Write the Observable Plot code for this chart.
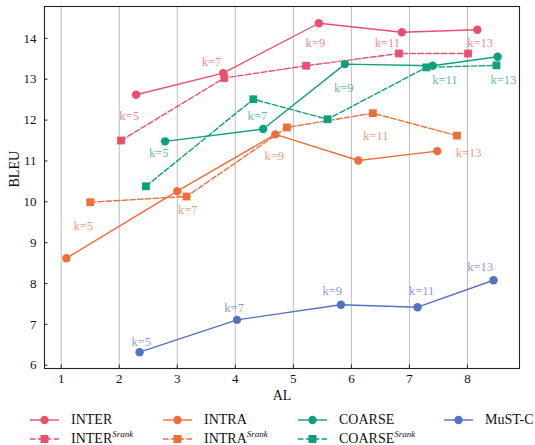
<!DOCTYPE html>
<html>
<head>
<meta charset="utf-8">
<script src="https://cdn.jsdelivr.net/npm/d3@7"></script>
<script src="https://cdn.jsdelivr.net/npm/@observablehq/plot@0.6"></script>
<style>
  body { margin: 0; background: #fff; }
  #wrap { position: relative; width: 535px; height: 445px; font-family: "Times New Roman", "Liberation Serif", "DejaVu Serif", serif; }
  #legend { position: absolute; left: 30px; top: 410px; display: grid; grid-template-columns: 133px 135px 146px auto; grid-auto-rows: 19px; font-size: 14px; color: #111; }
  .item { display: flex; align-items: center; white-space: nowrap; }
  .item svg { margin-right: 12px; flex: none; }
  sup { font-style: italic; font-size: 9px; vertical-align: 6px; line-height: 0; }
</style>
</head>
<body>
<div id="wrap">
  <div id="chart"></div>
  <div id="legend"></div>
</div>
<script>
const xTicks = [1, 2, 3, 4, 5, 6, 7, 8];
const yTicks = [6, 7, 8, 9, 10, 11, 12, 13, 14];
const kValues = [5, 7, 9, 11, 13];

const interAL = [2.29, 3.79, 5.44, 6.87, 8.17];
const interBLEU = [12.62, 13.15, 14.37, 14.15, 14.21];
const interSrankAL = [2.03, 3.81, 5.22, 6.82, 8.01];
const interSrankBLEU = [11.50, 13.03, 13.33, 13.63, 13.63];
const intraAL = [1.09, 3.00, 4.69, 6.12, 7.48];
const intraBLEU = [8.62, 10.26, 11.65, 11.01, 11.24];
const intraSrankAL = [1.50, 3.16, 4.89, 6.37, 7.82];
const intraSrankBLEU = [9.99, 10.13, 11.82, 12.17, 11.62];
const coarseAL = [2.79, 4.48, 5.89, 7.40, 8.52];
const coarseBLEU = [11.48, 11.78, 13.37, 13.33, 13.55];
const coarseSrankAL = [2.46, 4.31, 5.59, 7.29, 8.50];
const coarseSrankBLEU = [10.38, 12.51, 12.02, 13.29, 13.34];
const mustcAL = [2.35, 4.03, 5.82, 7.14, 8.45];
const mustcBLEU = [6.32, 7.11, 7.48, 7.42, 8.08];

// annotation anchor points (data units)
const interLabelAL = [2.17, 3.59, 5.38, 6.62, 8.22];
const interLabelBLEU = [12.09, 13.41, 13.89, 13.89, 13.89];
const intraLabelAL = [1.38, 3.18, 4.67, 6.42, 8.02];
const intraLabelBLEU = [9.40, 9.80, 11.12, 11.60, 11.19];
const coarseLabelAL = [2.68, 4.38, 5.87, 7.61, 8.62];
const coarseLabelBLEU = [11.19, 12.09, 12.79, 12.99, 12.99];
const mustcLabelAL = [2.38, 3.98, 5.67, 7.21, 8.22];
const mustcLabelBLEU = [6.58, 7.40, 7.81, 7.81, 8.40];

const C = { inter: "#e8506e", intra: "#ef6d38", coarse: "#0f9f7c", mustc: "#5572c0" };
const FONT = "'Times New Roman', 'Liberation Serif', 'DejaVu Serif', serif";

const rows = (al, bleu) => al.map((x, i) => ({ x, y: bleu[i], k: "k=" + kValues[i] }));

const series = [
  { name: "INTER", sup: "", color: C.inter, dashed: false, data: rows(interAL, interBLEU) },
  { name: "INTRA", sup: "", color: C.intra, dashed: false, data: rows(intraAL, intraBLEU) },
  { name: "COARSE", sup: "", color: C.coarse, dashed: false, data: rows(coarseAL, coarseBLEU) },
  { name: "MuST-C", sup: "", color: C.mustc, dashed: false, data: rows(mustcAL, mustcBLEU) },
  { name: "INTER", sup: "Srank", color: C.inter, dashed: true, data: rows(interSrankAL, interSrankBLEU) },
  { name: "INTRA", sup: "Srank", color: C.intra, dashed: true, data: rows(intraSrankAL, intraSrankBLEU) },
  { name: "COARSE", sup: "Srank", color: C.coarse, dashed: true, data: rows(coarseSrankAL, coarseSrankBLEU) }
];

const labels = [
  { color: C.inter, data: rows(interLabelAL, interLabelBLEU) },
  { color: C.intra, data: rows(intraLabelAL, intraLabelBLEU) },
  { color: C.coarse, data: rows(coarseLabelAL, coarseLabelBLEU) },
  { color: C.mustc, data: rows(mustcLabelAL, mustcLabelBLEU) }
];

const xDomain = [0.712, 8.897];
const yDomain = [5.92, 14.78];
const dash = "5.5,2.4";

const marks = [
  Plot.ruleX(xTicks, { x: d => d, stroke: "#bdbdbd", strokeWidth: 1 })
];
const order = [4, 0, 5, 1, 6, 2, 3];
for (const i of order) {
  const s = series[i];
  marks.push(Plot.line(s.data, { x: "x", y: "y", stroke: s.color, strokeWidth: 1.4, strokeDasharray: s.dashed ? dash : null }));
  marks.push(Plot.dot(s.data, { x: "x", y: "y", fill: s.color, stroke: "none", symbol: s.dashed ? "square" : "circle", r: s.dashed ? 4.4 : 4.2 }));
}
for (const l of labels) {
  marks.push(Plot.text(l.data, { x: "x", y: "y", text: "k", fill: l.color, fillOpacity: 0.72, fontSize: 12.5, fontFamily: FONT, lineAnchor: "middle" }));
}
marks.push(
  Plot.frame({ stroke: "#222", strokeWidth: 1.1 }),
  Plot.ruleY(yTicks, { y: d => d, x1: xDomain[0], x2: xDomain[0] + 0.06, stroke: "#222" }),
  Plot.ruleX(xTicks, { x: d => d, y1: yDomain[0], y2: yDomain[0] + 0.086, stroke: "#222" }),
  Plot.axisY(yTicks, { tickSize: 0, tickPadding: 8, label: null, fontSize: 13, fontFamily: FONT, fill: "#111" }),
  Plot.axisX(xTicks, { tickSize: 0, tickPadding: 5, label: null, fontSize: 13, fontFamily: FONT, fill: "#111" }),
  Plot.text(["AL"], { frameAnchor: "bottom", dy: 27, text: d => d, fontSize: 14, fontFamily: FONT, fill: "#111", lineAnchor: "middle" }),
  Plot.text(["BLEU"], { frameAnchor: "left", dx: -30, rotate: -90, text: d => d, fontSize: 14, fontFamily: FONT, fill: "#111", lineAnchor: "middle" })
);

const chart = Plot.plot({
  width: 535,
  height: 405,
  marginLeft: 44,
  marginRight: 16,
  marginTop: 6,
  marginBottom: 37,
  style: { fontFamily: FONT, fontSize: "13px", background: "#fff", overflow: "visible" },
  x: { domain: xDomain },
  y: { domain: yDomain },
  marks
});
document.getElementById("chart").appendChild(chart);

// legend (matplotlib-style, 4 columns, row-major)
const legend = document.getElementById("legend");
for (const s of series) {
  const item = document.createElement("div");
  item.className = "item";
  const marker = s.dashed
    ? `<rect x="10.5" y="2" width="8" height="8" fill="${s.color}"/>`
    : `<circle cx="14.5" cy="6" r="4.2" fill="${s.color}"/>`;
  item.innerHTML =
    `<svg width="29" height="12" viewBox="0 0 29 12"><line x1="0" x2="29" y1="6" y2="6" stroke="${s.color}" stroke-width="1.4" ${s.dashed ? `stroke-dasharray="${dash}"` : ""}/>${marker}</svg>` +
    `<span>${s.name}${s.sup ? `<sup>${s.sup}</sup>` : ""}</span>`;
  legend.appendChild(item);
}
</script>
</body>
</html>
